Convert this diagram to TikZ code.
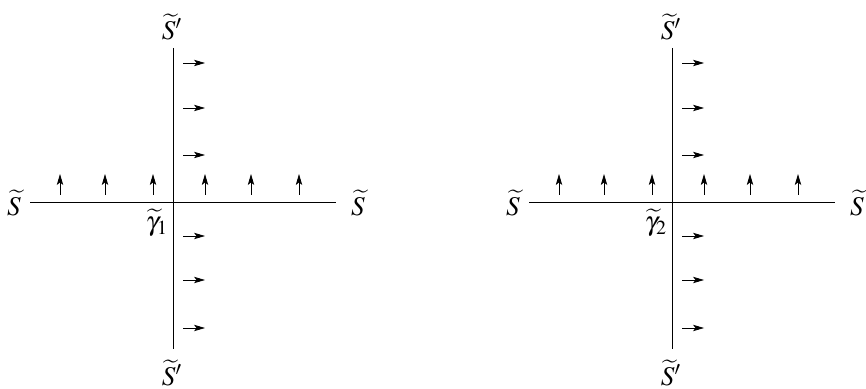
\documentclass[tikz,border=0pt]{standalone}
\usepackage{fontspec}
\setmainfont{Liberation Serif}
\usepackage{mathptmx}
\usetikzlibrary{arrows.meta}
\tikzset{
  axis/.style={line width=0.45pt},
  fieldarrow/.style={line width=0.4pt,-{Stealth[length=5.5pt,width=3.2pt,inset=1.3pt]}},
  lbl/.style={inner sep=0pt,font=\fontsize{13.5}{15}\selectfont}
}
\begin{document}
\begin{tikzpicture}[x=0.5pt,y=-0.5pt]
\useasboundingbox (0,0) rectangle (866,389);
\foreach \dx/\k in {0/1,499/2}{
  \begin{scope}[xshift=\dx*0.5pt]
    \coordinate (vt\k) at (173,48);
    \coordinate (vb\k) at (173,349);
    \coordinate (hl\k) at (30,202);
    \coordinate (hr\k) at (336,202);
    \draw[axis] (vt\k) -- (vb\k);
    \draw[axis] (hl\k) -- (hr\k);
    \foreach \y [count=\i] in {63,108,155,236,280,328}{
      \coordinate (ra\k\i) at (183,\y);
      \coordinate (rb\k\i) at (205,\y);
      \draw[fieldarrow] (ra\k\i) -- (rb\k\i);
    }
    \foreach \x [count=\i] in {60,105,153,205,251,299}{
      \coordinate (ua\k\i) at (\x,195);
      \coordinate (ub\k\i) at (\x,174);
      \draw[fieldarrow] (ua\k\i) -- (ub\k\i);
    }
    \node[lbl] (st\k) at (172,27) {$\widetilde{S}'$};
    \node[lbl] (sb\k) at (172,373) {$\widetilde{S}'$};
    \node[lbl] (sl\k) at (14,203) {$\widetilde{S}$};
    \node[lbl] (sr\k) at (358,203) {$\widetilde{S}$};
    \node[lbl] (g\k) at (157,223) {$\widetilde{\gamma}_{\k}$};
  \end{scope}
}
\end{tikzpicture}
\end{document}
